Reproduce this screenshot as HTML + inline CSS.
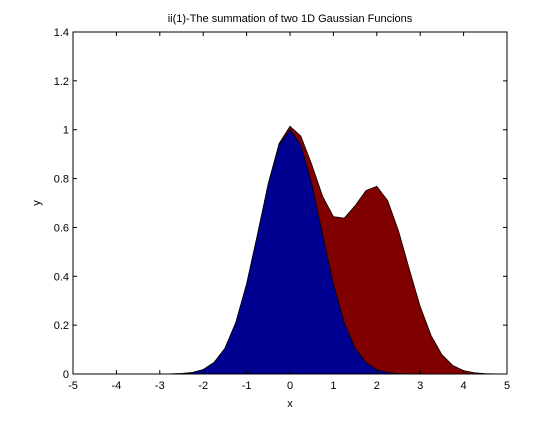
<!DOCTYPE html>
<html><head><meta charset="utf-8"><style>
body{margin:0;background:#fff;}
svg text{font-family:"Liberation Sans",sans-serif;font-size:11px;fill:#000;}
</style></head><body>
<svg id="chart" width="560" height="420">
<rect x="0" y="0" width="560" height="420" fill="#fff"/>
<g id="marks"></g>
<g id="axes"></g>
</svg>
<script>
const xValues=[-5,-4.75,-4.5,-4.25,-4,-3.75,-3.5,-3.25,-3,-2.75,-2.5,-2.25,-2,-1.75,-1.5,-1.25,-1,-0.75,-0.5,-0.25,0,0.25,0.5,0.75,1,1.25,1.5,1.75,2,2.25,2.5,2.75,3,3.25,3.5,3.75,4,4.25,4.5,4.75,5];
const gauss1=[0,0,0,0,0,0,0,0,0.0001,0.0005,0.002,0.006,0.018,0.047,0.105,0.210,0.368,0.570,0.779,0.939,1,0.939,0.779,0.570,0.368,0.210,0.105,0.047,0.018,0.006,0.002,0.0005,0.0001,0,0,0,0,0,0,0,0];
const gauss2=[0,0,0,0,0,0,0,0,0,0,0,0,0,0,0,0,0.0001,0.0004,0.0015,0.005,0.014,0.035,0.079,0.158,0.276,0.428,0.584,0.704,0.75,0.704,0.584,0.428,0.276,0.158,0.079,0.035,0.014,0.005,0.0015,0.0004,0.0001];
const xTicks=[-5,-4,-3,-2,-1,0,1,2,3,4,5];
const yTicks=[0,0.2,0.4,0.6,0.8,1,1.2,1.4];
const L=73,R=507,T=32,B=374;
const sx=v=>L+(v+5)/10*(R-L);
const sy=v=>B-v/1.4*(B-T);
const NS="http://www.w3.org/2000/svg";
const marks=document.getElementById('marks'),axes=document.getElementById('axes');
function mk(tag,attrs,parent){const e=document.createElementNS(NS,tag);for(const k in attrs)e.setAttribute(k,attrs[k]);parent.appendChild(e);return e;}
let top2=xValues.map((x,i)=>sx(x)+','+sy(gauss1[i]+gauss2[i])).join(' ');
const a2=mk('polygon',{points:sx(-5)+','+sy(0)+' '+top2+' '+sx(5)+','+sy(0),fill:'#800000',stroke:'#000','stroke-width':0.8},marks);


let top1=xValues.map((x,i)=>sx(x)+','+sy(gauss1[i])).join(' ');
const a1=mk('polygon',{points:sx(-5)+','+sy(0)+' '+top1+' '+sx(5)+','+sy(0),fill:'#000090',stroke:'#000','stroke-width':0.8},marks);


const box=mk('rect',{x:L,y:T,width:R-L,height:B-T,fill:'none',stroke:'#000','stroke-width':1},axes);


xTicks.forEach(t=>{const x=sx(t);
mk('line',{x1:x,x2:x,y1:B,y2:B-4,stroke:'#000'},axes);
mk('line',{x1:x,x2:x,y1:T,y2:T+4,stroke:'#000'},axes);
const tx=mk('text',{x:x,y:B+15,'text-anchor':'middle'},axes);tx.textContent=t;

});
yTicks.forEach(t=>{const y=sy(t);
mk('line',{x1:L,x2:L+4,y1:y,y2:y,stroke:'#000'},axes);
mk('line',{x1:R,x2:R-4,y1:y,y2:y,stroke:'#000'},axes);
const tx=mk('text',{x:L-4,y:y+4,'text-anchor':'end'},axes);tx.textContent=t;

});
const ti=mk('text',{x:290,y:22,'text-anchor':'middle'},axes);ti.textContent='ii(1)-The summation of two 1D Gaussian Funcions';


const xl=mk('text',{x:290,y:407,'text-anchor':'middle'},axes);xl.textContent='x';


const yl=mk('text',{x:40,y:203,'text-anchor':'middle',transform:'rotate(-90 40 203)'},axes);yl.textContent='y';


</script>
</body></html>
